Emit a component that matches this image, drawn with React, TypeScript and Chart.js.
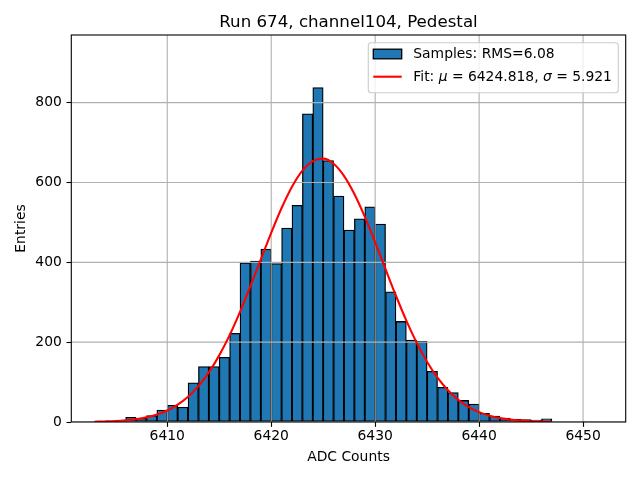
import React, { useEffect, useRef } from "react";
import { Chart, registerables } from "chart.js";

Chart.register(...registerables);

// ---- data ----
const binLow = [
  6403, 6404, 6405, 6406, 6407, 6408, 6409, 6410, 6411, 6412, 6413, 6414,
  6415, 6416, 6417, 6418, 6419, 6420, 6421, 6422, 6423, 6424, 6425, 6426,
  6427, 6428, 6429, 6430, 6431, 6432, 6433, 6434, 6435, 6436, 6437, 6438,
  6439, 6440, 6441, 6442, 6443, 6444, 6445, 6446,
];
const counts = [
  1, 2, 3, 12, 9, 16, 30, 42, 37, 98, 139, 139,
  162, 222, 399, 403, 433, 397, 486, 543, 772, 838, 655, 566,
  481, 509, 539, 496, 326, 252, 205, 202, 127, 87, 74, 54,
  45, 22, 15, 10, 7, 6, 5, 8,
];
const fitX = [
  6403, 6404, 6405, 6406, 6407, 6408, 6409, 6410, 6411, 6412, 6413, 6414,
  6415, 6416, 6417, 6418, 6419, 6420, 6421, 6422, 6423, 6424, 6425, 6426,
  6427, 6428, 6429, 6430, 6431, 6432, 6433, 6434, 6435, 6436, 6437, 6438,
  6439, 6440, 6441, 6442, 6443, 6444, 6445, 6446, 6447,
];
const fitY = [
  0.7, 1.4, 2.4, 4.2, 7.1, 11.7, 18.6, 28.8, 43.4, 63.4, 90.0, 124.4,
  166.9, 217.7, 276.0, 340.1, 407.3, 474.0, 536.1, 589.3, 629.6, 653.7, 659.7, 647.0,
  616.7, 571.2, 514.3, 450.1, 382.7, 316.3, 254.0, 198.3, 150.5, 111.0, 79.5, 55.4,
  37.5, 24.7, 15.8, 9.8, 5.9, 3.5, 2.0, 1.1, 0.6,
];
const xTicks = [6410, 6420, 6430, 6440, 6450];
const yTicks = [0, 200, 400, 600, 800];
const xRange = [6400.77, 6454.1];
const yRange = [0, 969.5];

const titleText = "Run 674, channel104, Pedestal";
const xLabel = "ADC Counts";
const yLabel = "Entries";
const histLabel = "Samples: RMS=6.08";
const fitLabel = "Fit: μ = 6424.818, σ = 5.921";

const FONT = '"DejaVu Sans", sans-serif';
const BLUE = "#1f77b4";

function drawMixed(ctx: CanvasRenderingContext2D, text: string, x: number, y: number, size: number) {
  const parts = text.split(/([μσ])/);
  for (const p of parts) {
    if (!p) continue;
    const it = /[μσ]/.test(p);
    ctx.font = `${it ? "italic " : ""}${size}px ${FONT}`;
    ctx.fillText(p, x, y);
    x += ctx.measureText(p).width;
  }
}

const mplPlugin = {
  id: "mpl",
  afterDatasetDraw(chart: any, args: any) {
    if (args.meta.type !== "bar") return;
    const { ctx, chartArea: a, scales } = chart;
    const xs = scales.x, ys = scales.y;
    ctx.save();
    ctx.beginPath();
    ctx.rect(a.left, a.top, a.right - a.left, a.bottom - a.top);
    ctx.clip();
    ctx.strokeStyle = "#b0b0b0";
    ctx.lineWidth = 1.1;
    ctx.beginPath();
    for (const t of xTicks) {
      const px = xs.getPixelForValue(t);
      ctx.moveTo(px, a.top);
      ctx.lineTo(px, a.bottom);
    }
    for (const t of yTicks) {
      const py = ys.getPixelForValue(t);
      ctx.moveTo(a.left, py);
      ctx.lineTo(a.right, py);
    }
    ctx.stroke();
    ctx.restore();
  },
  afterDraw(chart: any) {
    const { ctx, chartArea: a } = chart;
    ctx.save();
    // spines
    ctx.strokeStyle = "#000";
    ctx.lineWidth = 1.1;
    ctx.strokeRect(a.left, a.top, a.right - a.left, a.bottom - a.top);

    // title
    ctx.fillStyle = "#000";
    ctx.font = `16.67px ${FONT}`;
    ctx.textAlign = "center";
    ctx.textBaseline = "alphabetic";
    ctx.fillText(titleText, (a.left + a.right) / 2, 26.7);

    // legend
    const lx = 368.3, ly = 42.7, lw = 250, lh = 50;
    ctx.beginPath();
    (ctx as any).roundRect(lx, ly, lw, lh, 3);
    ctx.fillStyle = "rgba(255,255,255,0.8)";
    ctx.fill();
    ctx.strokeStyle = "#cccccc";
    ctx.lineWidth = 1.1;
    ctx.stroke();

    // entry 1: patch
    ctx.fillStyle = BLUE;
    ctx.fillRect(373.3, 49.2, 28.4, 9.6);
    ctx.strokeStyle = "#000";
    ctx.lineWidth = 1.3;
    ctx.strokeRect(373.3, 49.2, 28.4, 9.6);
    // entry 2: line
    ctx.strokeStyle = "red";
    ctx.lineWidth = 2.08;
    ctx.beginPath();
    ctx.moveTo(373.3, 76.7);
    ctx.lineTo(401.7, 76.7);
    ctx.stroke();

    ctx.fillStyle = "#000";
    ctx.textAlign = "left";
    ctx.textBaseline = "middle";
    drawMixed(ctx, histLabel, 413.3, 54.3, 13.89);
    drawMixed(ctx, fitLabel, 413.3, 77, 13.89);
    ctx.restore();
  },
};

export default function App() {
  const ref = useRef<HTMLCanvasElement | null>(null);
  useEffect(() => {
    document.body.style.margin = "0";
    const canvas = ref.current!;
    const chart = new Chart(canvas, {
      type: "bar",
      data: {
        datasets: [
          {
            type: "line",
            label: fitLabel,
            data: fitX.map((x, i) => ({ x, y: fitY[i] })),
            borderColor: "red",
            borderWidth: 2.08,
            pointRadius: 0,
            fill: false,
            cubicInterpolationMode: "monotone",
            order: 0,
          } as any,
          {
            type: "bar",
            label: histLabel,
            data: binLow.map((b, i) => ({ x: b + 0.5, y: counts[i] })),
            backgroundColor: BLUE,
            borderColor: "#000",
            borderWidth: 1.3,
            borderSkipped: false,
            barPercentage: 1,
            categoryPercentage: 1,
            grouped: false,
            order: 1,
          } as any,
        ],
      },
      options: {
        responsive: false,
        animation: false,
        devicePixelRatio: 1,
        layout: { padding: { top: 35, right: 14.3, left: 0, bottom: 0 } },
        plugins: {
          legend: { display: false },
          tooltip: { enabled: false },
          title: { display: false },
        },
        scales: {
          x: {
            type: "linear",
            offset: false,
            min: xRange[0],
            max: xRange[1],
            afterBuildTicks: (s: any) => {
              s.ticks = xTicks.map((v) => ({ value: v }));
            },
            afterFit: (s: any) => {
              s.height = 58;
            },
            grid: {
              display: true,
              offset: false,
              drawOnChartArea: false,
              drawTicks: true,
              tickLength: 4.86,
              tickColor: "#000",
              tickWidth: 1.1,
            },
            border: { display: false },
            ticks: {
              color: "#000",
              font: { family: FONT, size: 13.89 },
              padding: 1.7,
              maxRotation: 0,
              callback: (v: any) => String(v),
            },
            title: {
              display: true,
              text: xLabel,
              color: "#000",
              font: { family: FONT, size: 13.89 },
              padding: { top: 0, bottom: 14.5 },
            },
          },
          y: {
            type: "linear",
            min: yRange[0],
            max: yRange[1],
            afterBuildTicks: (s: any) => {
              s.ticks = yTicks.map((v) => ({ value: v }));
            },
            afterFit: (s: any) => {
              s.width = 71.3;
            },
            grid: {
              display: true,
              drawOnChartArea: false,
              drawTicks: true,
              tickLength: 4.86,
              tickColor: "#000",
              tickWidth: 1.1,
            },
            border: { display: false },
            ticks: {
              color: "#000",
              font: { family: FONT, size: 13.89 },
              padding: 4.6,
              callback: (v: any) => String(v),
            },
            title: {
              display: true,
              text: yLabel,
              color: "#000",
              font: { family: FONT, size: 13.89 },
              padding: { top: 13.3, bottom: 0 },
            },
          },
        },
      },
      plugins: [mplPlugin],
    } as any);
    return () => chart.destroy();
  }, []);
  return (
    <div style={{ position: "absolute", left: 0, top: 0, width: 640, height: 480 }}>
      <canvas ref={ref} width={640} height={480} style={{ display: "block" }} />
    </div>
  );
}
